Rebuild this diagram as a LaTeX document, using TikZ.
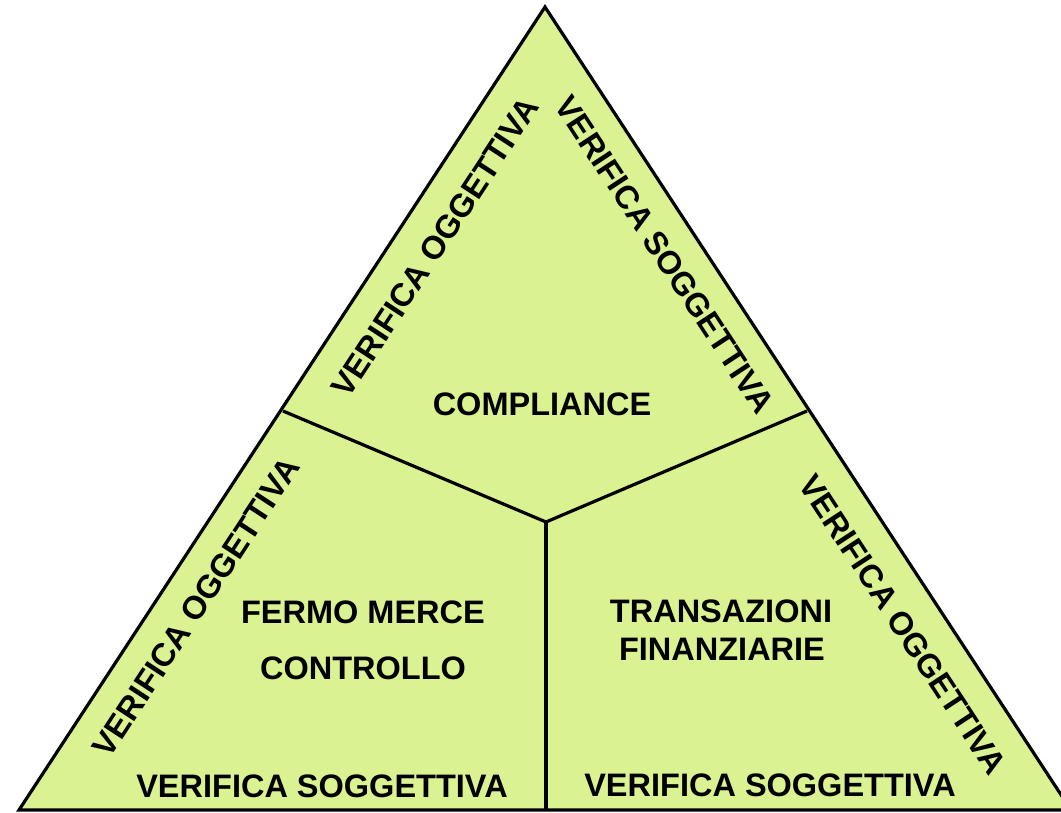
\documentclass[tikz,border=0pt]{standalone}
\usepackage{fontspec}
\setmainfont{Liberation Sans}
\definecolor{fillgreen}{RGB}{218,242,145}
\begin{document}
\begin{tikzpicture}[x=1pt,y=-1pt,
  edge/.style={line width=3.2pt,line join=miter},
  lbl/.style={font=\fontsize{32.5}{38}\selectfont\bfseries,inner sep=0pt,anchor=center,align=center}]
\useasboundingbox (0,0) rectangle (1061,813);
\clip (0,0) rectangle (1061,813);
\coordinate (apex) at (545,7);
\coordinate (bl) at (19,810);
\coordinate (br) at (1071,810);
\coordinate (jl) at (283,411);
\coordinate (jr) at (807,411);
\coordinate (jc) at (546,522);
\coordinate (jb) at (546,810);
\fill[fillgreen] (apex) -- (bl) -- (br) -- cycle;
\draw[edge] (jl) -- (jc) -- (jr);
\draw[edge] (jc) -- (jb);
\draw[edge] (apex) -- (bl) -- (br) -- cycle;

\node[lbl] (compl) at (542,404) {COMPLIANCE};
\node[lbl] (tl) at (435,247) [rotate=56.8] {VERIFICA OGGETTIVA};
\node[lbl] (tr) at (665,255) [rotate=-56.8] {VERIFICA SOGGETTIVA};
\node[lbl] (ll) at (196,607) [rotate=56.8] {VERIFICA OGGETTIVA};
\node[lbl] (lr) at (903,625) [rotate=-56.8] {VERIFICA OGGETTIVA};
\node[lbl] (fermo) at (363,612) {FERMO MERCE};
\node[lbl] (contr) at (363,668) {CONTROLLO};
\node[lbl] (trans) at (721,611) {TRANSAZIONI};
\node[lbl] (fin) at (722,649) {FINANZIARIE};
\node[lbl] (bsl) at (322,786) {VERIFICA SOGGETTIVA};
\node[lbl] (bsr) at (770,785) {VERIFICA SOGGETTIVA};
\end{tikzpicture}
\end{document}
